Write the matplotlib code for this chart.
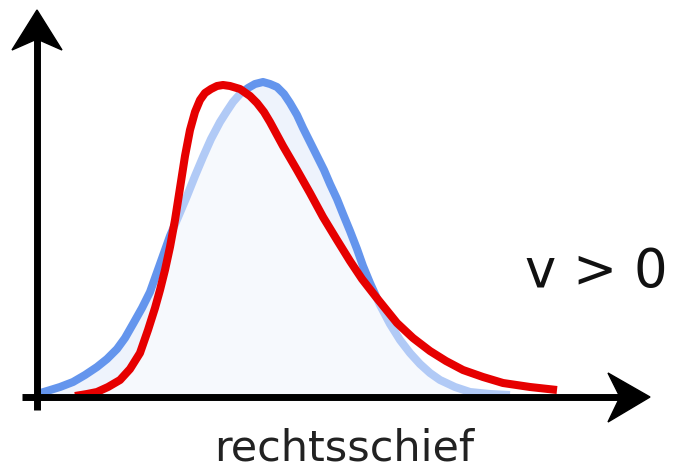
import matplotlib
matplotlib.use("Agg")
import matplotlib.pyplot as plt
from matplotlib.patches import Polygon

# values (origin at the axes crossing, 1 unit = 1 px)
blue_x = [0, 10, 23, 36, 48, 60, 70, 80, 88, 96, 105, 113, 123, 133, 142, 150,
          158, 166, 174, 183, 190, 196, 203, 211, 218, 226, 233, 240, 247, 253,
          260, 266, 273, 280, 287, 293, 300, 306, 313, 320, 326, 333, 343, 353,
          363, 373, 383, 393, 403, 418, 433, 453, 473]
blue_y = [3, 6, 10, 15, 22, 30, 38, 48, 59, 73, 89, 105, 133, 161, 182, 201,
          221, 240, 258, 275, 286, 295, 303, 309, 313, 315, 313, 310, 303, 294,
          282, 269, 255, 241, 227, 213, 198, 183, 166, 148, 131, 114, 92, 73,
          57, 44, 33, 24, 17, 10, 5, 3, 2]

red_x = [38, 50, 60, 71, 83, 93, 103, 111, 118, 123, 128, 133, 138, 143, 148,
         153, 158, 163, 168, 174, 180, 186, 193, 203, 213, 220, 227, 233, 246,
         260, 273, 286, 300, 313, 325, 339, 360, 376, 393, 409, 426, 446, 466,
         493, 520]
red_y = [1, 3, 5, 10, 17, 28, 44, 67, 89, 107, 127, 150, 177, 209, 241,
         267, 285, 297, 304, 308, 311, 312, 311, 308, 301, 294, 285, 275, 251,
         227, 204, 180, 157, 136, 118, 100, 74, 59, 46, 36, 27, 20, 14,
         10, 7]

label_skew = "v > 0"
label_name = "rechtsschief"

fig = plt.figure(figsize=(6.77, 4.69), dpi=100)
ax = fig.add_axes([0, 0, 1, 1])
ax.set_xlim(-37, 640)
ax.set_ylim(-72, 397)
ax.axis("off")

ax.fill_between(blue_x, blue_y, 0, color="#eef3fc", lw=0, zorder=1)
ax.plot(blue_x, blue_y, color="#6495ed", lw=5.8, solid_capstyle="butt",
        solid_joinstyle="round", zorder=2)
ax.fill_between(red_x, red_y, 0, color="white", alpha=0.5, lw=0, zorder=3)
ax.plot(red_x, red_y, color="#e60000", lw=5.8, solid_capstyle="butt",
        solid_joinstyle="round", zorder=4)

# axes with arrows
ax.plot([-15, 590], [0, 0], color="black", lw=5, solid_capstyle="butt", zorder=5)
ax.plot([0, 0], [-13, 360], color="black", lw=5, solid_capstyle="butt", zorder=5)
ax.add_patch(Polygon([[613, 0], [571, 24], [583, 0], [571, -25]],
                     closed=True, color="black", zorder=6))
ax.add_patch(Polygon([[0, 387], [-25, 347], [0, 358], [25, 347]],
                     closed=True, color="black", zorder=6))

ax.text(559, 110, label_skew, fontsize=38, ha="center", va="baseline", color="#111111")
ax.text(307, -63, label_name, fontsize=31, ha="center", va="baseline", color="#222222")

fig.savefig("out.png", dpi=100)
